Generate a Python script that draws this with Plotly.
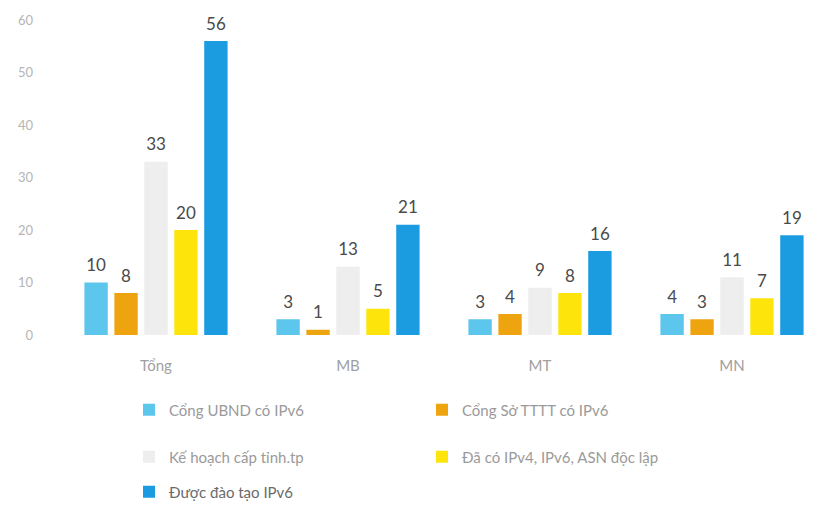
import plotly.graph_objects as go

categories = ["Tổng", "MB", "MT", "MN"]
series_names = [
    "Cổng UBND có IPv6",
    "Cổng Sở TTTT có IPv6",
    "Kế hoạch cấp tỉnh.tp",
    "Đã có IPv4, IPv6, ASN độc lập",
    "Được đào tạo IPv6",
]
ubnd = [10, 3, 3, 4]
so_tttt = [8, 1, 4, 3]
ke_hoach = [33, 13, 9, 11]
da_co = [20, 5, 8, 7]
dao_tao = [56, 21, 16, 19]
y_ticks = [0, 10, 20, 30, 40, 50, 60]

values = [ubnd, so_tttt, ke_hoach, da_co, dao_tao]
colors = ["#5cc6ec", "#eea40e", "#eeeeee", "#fde50c", "#1c9ce0"]
legends = ["legend", "legend", "legend2", "legend2", "legend3"]

W, H = 822, 509
fig = go.Figure()
for i, (name, vals, col, lg) in enumerate(zip(series_names, values, colors, legends)):
    fig.add_trace(go.Bar(
        x=categories, y=vals, name=name, marker_color=col,
        marker_line_width=0, offsetgroup=f"g{i}", alignmentgroup="a",
        cliponaxis=False, legend=lg,
    ))
for i, vals in enumerate(values):
    fig.add_trace(go.Scatter(
        x=categories, y=vals, mode="markers+text", showlegend=False,
        offsetgroup=f"g{i}", alignmentgroup="a",
        marker=dict(size=10, opacity=0),
        text=[str(v) for v in vals], textposition="top center",
        textfont=dict(size=17, color="#4a4a4a", family="Lato"),
        cliponaxis=False, hoverinfo="skip",
    ))

leg_common = dict(orientation="h", entrywidth=248, xanchor="left", yanchor="middle",
                  xref="container", yref="container",
                  bgcolor="rgba(0,0,0,0)", itemwidth=30)
fig.update_layout(
    width=W, height=H,
    paper_bgcolor="white", plot_bgcolor="white",
    margin=dict(l=52, r=2, t=12, b=182, autoexpand=False),
    barmode="group", bargap=0.22, bargroupgap=0.22,
    scattermode="group", scattergap=0.22,
    font=dict(family="Lato", color="#999999"),
    showlegend=True,
    legend=dict(x=121 / W, y=1 - 402 / H, font=dict(size=15, color="#9a9a9a"), **leg_common),
    legend2=dict(x=121 / W, y=1 - 449 / H, font=dict(size=15, color="#9a9a9a"), **leg_common),
    legend3=dict(x=121 / W, y=1 - 484 / H, font=dict(size=15, color="#6a6a6a"), **leg_common),
    xaxis=dict(showgrid=False, showline=False, zeroline=False, ticks="",
               tickfont=dict(size=15, color="#a0a0a0"), ticklabelstandoff=20),
    yaxis=dict(range=[0, 60], tickvals=y_ticks, showgrid=False, showline=False,
               zeroline=False, ticks="", tickfont=dict(size=13, color="#b5b5b5"),
               ticklabelstandoff=26),
)
fig.write_html("out.html")
